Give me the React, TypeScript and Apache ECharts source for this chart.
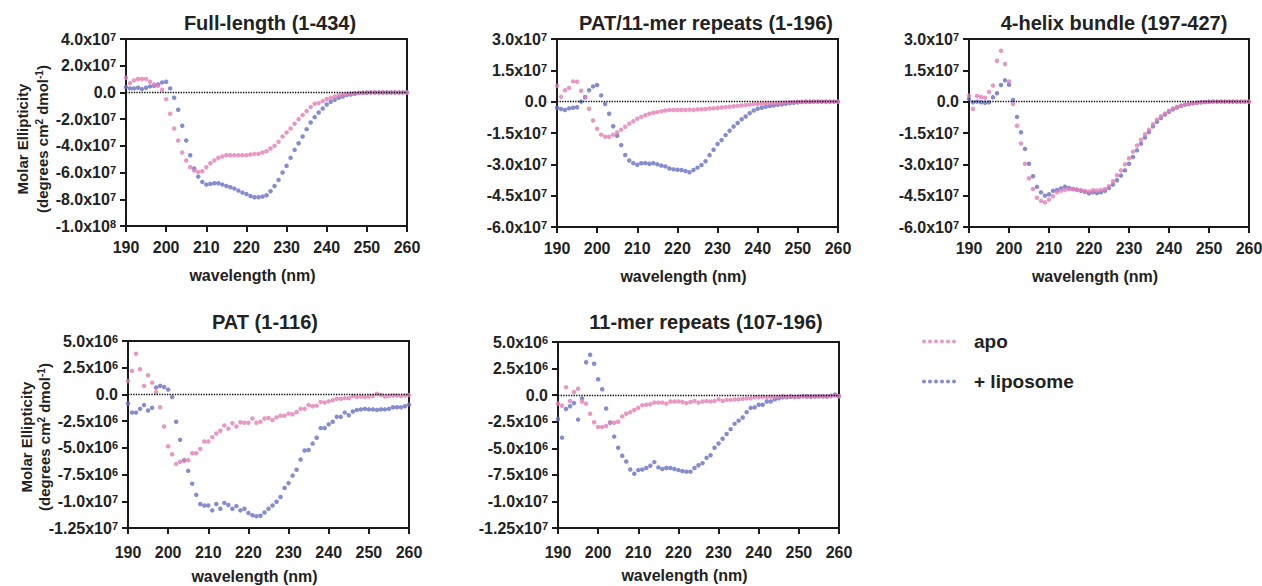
import React, { useEffect, useRef } from "react";
import * as echarts from "echarts";

// ---------------- DATA ----------------
const wavelengths = [
  190, 191, 192, 193, 194, 195, 196, 197, 198, 199,
  200, 201, 202, 203, 204, 205, 206, 207, 208, 209,
  210, 211, 212, 213, 214, 215, 216, 217, 218, 219,
  220, 221, 222, 223, 224, 225, 226, 227, 228, 229,
  230, 231, 232, 233, 234, 235, 236, 237, 238, 239,
  240, 241, 242, 243, 244, 245, 246, 247, 248, 249,
  250, 251, 252, 253, 254, 255, 256, 257, 258, 259, 260,
];

const panelTitles = [
  "Full-length (1-434)",
  "PAT/11-mer repeats (1-196)",
  "4-helix bundle (197-427)",
  "PAT (1-116)",
  "11-mer repeats (107-196)",
];

const seriesNames = ["apo", "+ liposome"];

// Full-length (values in units of 1e7)
const p1Scale = 1e7;
const p1Apo = [
  1.1, 0.7, 0.9, 1.0, 1.0, 1.0, 0.8, 0.6, 0.5, 0.2,
  -0.5, -1.6, -2.7, -3.6, -4.5, -5.1, -5.6, -5.85, -5.95, -5.9,
  -5.6, -5.3, -5.1, -4.9, -4.8, -4.7, -4.7, -4.7, -4.7, -4.7,
  -4.7, -4.65, -4.6, -4.6, -4.5, -4.4, -4.2, -4.0, -3.7, -3.3,
  -3.0, -2.7, -2.35, -2.0, -1.7, -1.4, -1.1, -0.85, -0.8, -0.65,
  -0.5, -0.4, -0.3, -0.22, -0.16, -0.12, -0.08, -0.05, -0.03, -0.02,
  -0.01, 0, 0, 0, 0, 0, 0, 0, 0, 0, 0,
];
const p1Lipo = [
  0.4, 0.3, 0.3, 0.35, 0.25, 0.35, 0.45, 0.5, 0.6, 0.75,
  0.8, 0.3, -0.4, -1.3, -2.5, -3.6, -4.7, -5.7, -6.3, -6.7,
  -6.9, -6.85, -6.8, -6.8, -6.9, -7.0, -7.1, -7.2, -7.35, -7.5,
  -7.6, -7.75, -7.85, -7.85, -7.8, -7.7, -7.4, -7.0, -6.55, -6.0,
  -5.5, -4.9, -4.3, -3.8, -3.3, -2.75, -2.25, -1.85, -1.5, -1.2,
  -0.9, -0.7, -0.55, -0.4, -0.3, -0.2, -0.15, -0.1, -0.05, -0.03,
  -0.02, 0, 0, 0, 0, 0, 0, 0, 0, 0, 0,
];

// PAT/11-mer repeats (units of 1e7)
const p2Scale = 1e7;
const p2Apo = [
  0.76, 0.23, 0.55, 0.66, 0.97, 0.95, 0.52, 0.2, -0.34, -0.9,
  -1.3, -1.58, -1.68, -1.68, -1.58, -1.47, -1.34, -1.2, -1.06, -0.94,
  -0.82, -0.73, -0.65, -0.58, -0.53, -0.5, -0.46, -0.42, -0.4, -0.4,
  -0.4, -0.4, -0.4, -0.38, -0.4, -0.37, -0.36, -0.35, -0.33, -0.32,
  -0.3, -0.28, -0.26, -0.24, -0.22, -0.2, -0.18, -0.16, -0.14, -0.12,
  -0.11, -0.1, -0.09, -0.08, -0.07, -0.06, -0.05, -0.04, -0.03, -0.02,
  -0.01, 0, 0.01, 0, 0, 0, 0, 0.01, 0, 0, 0,
];
const p2Lipo = [
  -0.29, -0.35, -0.4, -0.32, -0.29, -0.27, 0, 0.22, 0.55, 0.73,
  0.8, 0.3, -0.11, -0.58, -1.18, -1.63, -2.08, -2.55, -2.82, -2.94,
  -3.02, -2.95, -2.94, -2.97, -2.95, -3.0, -3.06, -3.1, -3.2, -3.24,
  -3.26, -3.27, -3.32, -3.38, -3.27, -3.16, -3.03, -2.85, -2.56, -2.3,
  -2.03, -1.84, -1.6, -1.39, -1.19, -1.02, -0.84, -0.71, -0.55, -0.42,
  -0.34, -0.29, -0.24, -0.21, -0.18, -0.15, -0.13, -0.1, -0.07, -0.05,
  -0.03, -0.02, -0.01, -0.01, 0, 0, 0, 0, 0, 0, 0,
];

// 4-helix bundle (units of 1e7)
const p3Scale = 1e7;
const p3Apo = [
  0.29, -0.35, 0.27, 0.22, 0.19, 0.46, 0.77, 1.96, 2.44, 1.8,
  0.97, -0.11, -1.15, -2.0, -2.97, -3.67, -4.18, -4.6, -4.75, -4.82,
  -4.69, -4.53, -4.34, -4.27, -4.23, -4.18, -4.19, -4.21, -4.24, -4.28,
  -4.3, -4.24, -4.25, -4.23, -4.18, -4.05, -3.81, -3.52, -3.29, -3.0,
  -2.71, -2.39, -2.1, -1.82, -1.56, -1.34, -1.08, -0.86, -0.7, -0.57,
  -0.43, -0.33, -0.25, -0.19, -0.14, -0.1, -0.07, -0.05, -0.03, -0.02,
  -0.01, 0, 0, 0, 0, 0, 0.01, 0, 0, 0, 0,
];
const p3Lipo = [
  0.13, -0.03, 0, -0.03, -0.05, -0.03, 0.21, 0.4, 0.8, 1.02,
  0.81, 0.08, -0.73, -1.47, -2.26, -2.97, -3.57, -4.08, -4.34, -4.5,
  -4.43, -4.27, -4.23, -4.15, -4.07, -4.13, -4.18, -4.22, -4.27, -4.32,
  -4.39, -4.34, -4.37, -4.34, -4.27, -4.13, -3.97, -3.76, -3.54, -3.29,
  -2.97, -2.65, -2.33, -2.01, -1.72, -1.45, -1.18, -0.96, -0.78, -0.62,
  -0.48, -0.37, -0.28, -0.21, -0.15, -0.11, -0.08, -0.05, -0.03, -0.02,
  -0.01, 0, 0, 0, 0, 0, 0, 0, 0, 0, 0,
];

// PAT (units of 1e6)
const p4Scale = 1e6;
const p4Apo = [
  1.25, 2.2, 3.8, 2.35, 0.8, 1.8, 1.1, 0.2, -1.2, -3.0,
  -4.85, -5.6, -6.5, -6.3, -6.2, -6.15, -5.5, -5.5, -5.1, -4.4,
  -4.4, -4.0, -3.65, -3.4, -2.9, -3.2, -2.7, -3.0, -2.6, -2.65,
  -2.65, -2.25, -2.65, -2.55, -2.25, -2.2, -2.4, -2.15, -2.0, -2.0,
  -1.8, -1.85, -1.65, -1.35, -1.35, -1.0, -1.1, -1.05, -0.7, -0.75,
  -0.65, -0.55, -0.4, -0.4, -0.35, -0.35, -0.15, -0.25, -0.2, -0.25,
  -0.2, -0.15, 0.05, -0.05, -0.2, -0.15, -0.1, -0.1, -0.15, -0.1, -0.05,
];
const p4Lipo = [
  -0.85, -1.7, -1.7, -1.35, -1.0, -1.5, -1.25, 0.65, 0.8, 0.7,
  0.45, -0.25, -2.55, -4.25, -6.15, -7.15, -8.35, -9.4, -10.25, -10.4,
  -10.4, -10.85, -10.25, -10.7, -10.15, -10.35, -10.7, -10.45, -10.85, -10.7,
  -11.1, -11.3, -11.4, -11.35, -11.05, -10.7, -10.4, -10.05, -9.6, -8.75,
  -8.3, -7.6, -7.05, -6.1, -5.25, -5.2, -4.6, -4.05, -3.15, -3.15,
  -2.8, -2.55, -2.1, -2.1, -1.7, -1.95, -1.6, -1.45, -1.4, -1.35,
  -1.4, -1.4, -1.45, -1.4, -1.4, -1.35, -1.2, -1.2, -1.2, -1.1, -0.95,
];

// 11-mer repeats (units of 1e6)
const p5Scale = 1e6;
const p5Apo = [
  -0.8, -1.0, 0.75, -0.55, 0.3, 0.6, -0.6, -0.8, -1.75, -2.55,
  -3.0, -3.0, -2.9, -2.55, -2.6, -2.5, -2.0, -1.75, -1.6, -1.4,
  -1.2, -0.95, -0.9, -0.85, -0.7, -0.7, -0.7, -0.8, -0.6, -0.6,
  -0.6, -0.65, -0.75, -0.65, -0.55, -0.7, -0.6, -0.55, -0.6, -0.55,
  -0.4, -0.55, -0.45, -0.45, -0.4, -0.4, -0.35, -0.3, -0.3, -0.2,
  -0.2, -0.15, -0.2, -0.15, -0.15, -0.15, -0.1, -0.15, -0.1, -0.2,
  -0.15, -0.1, -0.15, -0.1, -0.15, -0.1, -0.1, -0.15, -0.1, -0.05, -0.1,
];
const p5Lipo = [
  -2.25, -4.0, -1.3, -1.05, -0.75, -2.3, -0.3, 3.1, 3.8, 2.95,
  1.5, 0.55, -1.25, -2.6, -3.9, -4.95, -5.7, -6.25, -7.0, -7.4,
  -7.05, -7.0, -6.85, -6.65, -6.3, -6.8, -6.95, -6.85, -6.85, -6.95,
  -7.05, -7.15, -7.2, -7.2, -6.85, -6.6, -6.4, -5.9, -5.65, -4.95,
  -4.55, -4.1, -3.65, -3.2, -2.7, -2.4, -2.1, -1.6, -1.2, -1.15,
  -0.9, -0.9, -0.6, -0.6, -0.4, -0.3, -0.2, -0.2, -0.15, -0.15,
  -0.15, -0.1, -0.1, -0.15, -0.1, -0.1, -0.1, -0.1, -0.05, 0.05, -0.1,
];

// Axis ranges
const xRange = { min: 190, max: 260, step: 10 };
const yRanges = [
  { min: -1e8, max: 4e7, step: 2e7 },
  { min: -6e7, max: 3e7, step: 1.5e7 },
  { min: -6e7, max: 3e7, step: 1.5e7 },
  { min: -1.25e7, max: 5e6, step: 2.5e6 },
  { min: -1.25e7, max: 5e6, step: 2.5e6 },
];

const panelData = [
  { apo: p1Apo, lipo: p1Lipo, scale: p1Scale },
  { apo: p2Apo, lipo: p2Lipo, scale: p2Scale },
  { apo: p3Apo, lipo: p3Lipo, scale: p3Scale },
  { apo: p4Apo, lipo: p4Lipo, scale: p4Scale },
  { apo: p5Apo, lipo: p5Lipo, scale: p5Scale },
];

// ---------------- LAYOUT / STYLE ----------------
const FONT = '"Liberation Sans", Arial, Helvetica, sans-serif';
const TEXT = "#222222";
const AXIS = "#1a1a1a";
const PINK = "#E37EB7";
const BLUE = "#6870C3";

const layouts = [
  { left: 126, top: 39, width: 281, height: 187, titleX: 270, titleTop: 13, nameGap: 41, labelMargin: 13 },
  { left: 557, top: 39, width: 281, height: 188, titleX: 706, titleTop: 13, nameGap: 41, labelMargin: 13 },
  { left: 969, top: 39, width: 280, height: 188, titleX: 1114, titleTop: 13, nameGap: 41, labelMargin: 13 },
  { left: 128, top: 341, width: 281, height: 187, titleX: 265, titleTop: 312, nameGap: 40, labelMargin: 16 },
  { left: 558, top: 342, width: 281, height: 186, titleX: 706, titleTop: 312, nameGap: 39, labelMargin: 16 },
];

const yNamePositions = [
  { x1: 22, x2: 42, y: 139 },
  { x1: 26, x2: 44, y: 437 },
];

function sciLabel(v: number): string {
  if (Math.abs(v) < 1) return "{m|0.0}";
  const e = Math.floor(Math.log10(Math.abs(v)) + 1e-9);
  const m = v / Math.pow(10, e);
  const r = Math.round(m * 100) / 100;
  const s = Math.abs(r * 10 - Math.round(r * 10)) < 1e-6 ? r.toFixed(1) : r.toFixed(2);
  return `{m|${s}x10}{s|${e}}`;
}

const richLabel = {
  m: { fontSize: 16, fontWeight: "bold", color: TEXT, fontFamily: FONT, lineHeight: 18 },
  s: { fontSize: 11, fontWeight: "bold", color: TEXT, fontFamily: FONT, lineHeight: 11, verticalAlign: "top", padding: [1, 0, 0, 0] },
};

function dotsPath(n: number, r: number, gap: number): string {
  let d = "path://";
  for (let i = 0; i < n; i++) {
    const cx = r + i * gap;
    d += `M${cx - r} ${r}A${r} ${r} 0 1 0 ${cx + r} ${r}A${r} ${r} 0 1 0 ${cx - r} ${r}Z`;
  }
  return d;
}

export default function App() {
  const ref = useRef<HTMLDivElement>(null);

  useEffect(() => {
    if (!ref.current) return;
    const chart = echarts.init(ref.current, undefined, { renderer: "svg" });

    const grids = layouts.map((l) => ({
      left: l.left,
      top: l.top,
      width: l.width,
      height: l.height,
      show: true,
      borderColor: AXIS,
      borderWidth: 2,
      backgroundColor: "transparent",
      containLabel: false,
      outerBoundsMode: "none",
    }));

    const xAxes = layouts.map((l, i) => ({
      type: "value",
      gridIndex: i,
      min: xRange.min,
      max: xRange.max,
      interval: xRange.step,
      name: "wavelength (nm)",
      nameLocation: "middle",
      nameGap: l.nameGap,
      nameTextStyle: {
        fontSize: 16,
        fontWeight: "bold",
        color: TEXT,
        fontFamily: FONT,
        padding: [0, 28, 0, 0],
      },
      axisLine: { show: true, onZero: false, lineStyle: { color: AXIS, width: 2 } },
      axisTick: { show: true, length: 6, lineStyle: { color: AXIS, width: 2 } },
      axisLabel: {
        fontSize: 16,
        fontWeight: "bold",
        color: TEXT,
        fontFamily: FONT,
        margin: l.labelMargin,
        showMinLabel: true,
        showMaxLabel: true,
      },
      splitLine: { show: false },
    }));

    const yAxes = yRanges.map((r, i) => ({
      type: "value",
      gridIndex: i,
      min: r.min,
      max: r.max,
      interval: r.step,
      axisLine: { show: true, onZero: false, lineStyle: { color: AXIS, width: 2 } },
      axisTick: { show: true, length: 6, lineStyle: { color: AXIS, width: 2 } },
      axisLabel: {
        margin: 10,
        formatter: (v: number) => sciLabel(v),
        rich: richLabel,
        showMinLabel: true,
        showMaxLabel: true,
      },
      splitLine: { show: false },
    }));

    const series: any[] = [];
    panelData.forEach((p, i) => {
      series.push({
        type: "scatter",
        name: seriesNames[1],
        xAxisIndex: i,
        yAxisIndex: i,
        symbol: "circle",
        symbolSize: 4.5,
        itemStyle: { color: BLUE },
        data: wavelengths.map((w, k) => [w, p.lipo[k] * p.scale]),
        markLine: {
          silent: true,
          symbol: "none",
          label: { show: false },
          lineStyle: { color: "#000", type: "dotted", width: 1.3 },
          data: [{ yAxis: 0 }],
        },
        z: 2,
      });
      series.push({
        type: "scatter",
        name: seriesNames[0],
        xAxisIndex: i,
        yAxisIndex: i,
        symbol: "circle",
        symbolSize: 4.5,
        itemStyle: { color: PINK },
        data: wavelengths.map((w, k) => [w, p.apo[k] * p.scale]),
        z: 3,
      });
    });

    const titles = layouts.map((l, i) => ({
      text: panelTitles[i],
      left: l.titleX,
      top: l.titleTop,
      textAlign: "center",
      padding: 0,
      textStyle: { fontSize: 20, fontWeight: "bold", color: TEXT, fontFamily: FONT },
    }));

    const yNameRich = {
      m: { fontSize: 15, fontWeight: "bold", fill: TEXT, fontFamily: FONT, lineHeight: 18 },
      s: { fontSize: 10, fontWeight: "bold", fill: TEXT, fontFamily: FONT, lineHeight: 10, verticalAlign: "top", padding: [1, 0, 0, 0] },
    };

    const graphics: any[] = [];
    yNamePositions.forEach((p) => {
      graphics.push({
        type: "text",
        x: p.x1,
        y: p.y,
        rotation: Math.PI / 2,
        style: {
          text: "Molar Ellipticity",
          fontSize: 15,
          fontWeight: "bold",
          fontFamily: FONT,
          fill: TEXT,
          align: "center",
          verticalAlign: "middle",
        },
      });
      graphics.push({
        type: "text",
        x: p.x2,
        y: p.y,
        rotation: Math.PI / 2,
        style: {
          text: "{m|(degrees cm}{s|2}{m| dmol}{s|-1}{m|)}",
          rich: yNameRich,
          align: "center",
          verticalAlign: "middle",
        },
      });
    });

    chart.setOption({
      animation: false,
      backgroundColor: "#ffffff",
      title: titles,
      grid: grids,
      xAxis: xAxes,
      yAxis: yAxes,
      series,
      graphic: graphics,
      legend: {
        data: seriesNames,
        orient: "vertical",
        left: 922,
        top: 332,
        padding: 0,
        itemWidth: 34,
        itemHeight: 4,
        itemGap: 21,
        icon: dotsPath(6, 2, 6),
        selectedMode: false,
        textStyle: {
          fontSize: 19,
          fontWeight: "bold",
          color: TEXT,
          fontFamily: FONT,
          padding: [0, 0, 0, 13],
        },
      },
    });

    return () => chart.dispose();
  }, []);

  return (
    <div
      ref={ref}
      style={{ position: "fixed", left: 0, top: 0, width: 1262, height: 586, background: "#fff" }}
    />
  );
}
